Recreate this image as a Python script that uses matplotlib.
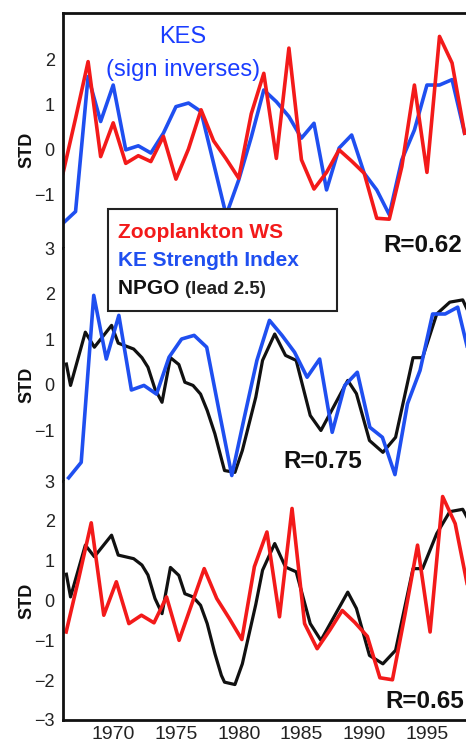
import matplotlib
matplotlib.use('Agg')
import matplotlib.pyplot as plt
import matplotlib.transforms as mtransforms
from matplotlib.patches import Rectangle
import numpy as np

plt.rcParams['font.family'] = ['Liberation Sans', 'DejaVu Sans']

# 颜色
red = '#f31a1a'
blue = '#1f4ff0'
black = '#111111'

years = np.arange(1966, 1999)

# panel 1: zooplankton WS vs KES (sign inversed)
zoo_ws_p1 = [-0.52, 0.70, 1.96, -0.15, 0.60, -0.30, -0.13, -0.26, 0.30, -0.65,
             0.02, 0.89, 0.20, -0.20, -0.63, 0.80, 1.70, -0.19, 2.26, -0.22,
             -0.87, -0.50, 0.00, -0.25, -0.52, -1.52, -1.54, -0.37, 1.44, -0.50,
             2.52, 1.93, 0.37]
kes_p1 = [-1.63, -1.37, 1.63, 0.63, 1.44, 0.00, 0.09, -0.07, 0.37, 0.96,
          1.04, 0.85, -0.30, -1.45, -0.67, 0.28, 1.33, 1.07, 0.74, 0.26,
          0.59, -0.89, 0.04, 0.33, -0.52, -0.89, -1.44, -0.22, 0.44, 1.44,
          1.44, 1.56, 0.37]

# panel 2: KES vs NPGO
kes_p2 = [-2.05, -1.71, 1.96, 0.56, 1.52, -0.12, -0.02, -0.21, 0.60, 1.00,
          1.08, 0.82, -0.60, -2.00, -0.72, 0.53, 1.41, 1.08, 0.71, 0.16,
          0.56, -1.05, -0.02, 0.27, -0.94, -1.16, -1.98, -0.42, 0.31, 1.55,
          1.55, 1.70, 0.55]
npgo_years = [1966.27, 1966.6, 1967.78, 1968.5, 1969.87, 1970.4, 1971.63, 1972.29,
              1972.77, 1973.33, 1973.89, 1974.56, 1975.23, 1975.71, 1976.36, 1976.96,
              1977.49, 1978.1, 1978.62, 1978.87, 1979.7, 1980.29, 1981.36, 1981.9,
              1982.87, 1983.73, 1984.58, 1985.7, 1986.55, 1988.69, 1989.38, 1990.42,
              1991.49, 1992.5, 1993.89, 1994.65, 1995.78, 1996.82, 1997.85, 1998.24]
npgo_p2 = [0.45, -0.02, 1.15, 0.82, 1.30, 0.91, 0.78, 0.59, 0.38, -0.10,
           -0.39, 0.59, 0.44, 0.05, -0.02, -0.21, -0.57, -1.08, -1.63, -1.89,
           -1.93, -1.45, -0.28, 0.53, 1.11, 0.64, 0.53, -0.68, -1.01, 0.09,
           -0.20, -1.23, -1.49, -1.16, 0.59, 0.59, 1.55, 1.81, 1.86, 1.63]

# panel 3: zooplankton WS vs NPGO
zoo_ws_p3 = [-0.79, 0.55, 1.95, -0.37, 0.47, -0.58, -0.37, -0.56, 0.09, -1.00,
             -0.10, 0.80, 0.05, -0.45, -0.98, 0.85, 1.72, -0.41, 2.31, -0.58,
             -1.21, -0.75, -0.25, -0.55, -0.90, -1.94, -1.99, -0.35, 1.39, -0.79,
             2.61, 1.93, 0.34]
npgo_p3 = [0.66, 0.09, 1.39, 1.10, 1.64, 1.14, 1.05, 0.89, 0.64, 0.05,
           -0.33, 0.83, 0.63, 0.17, 0.09, -0.12, -0.58, -1.33, -1.88, -2.05,
           -2.11, -1.59, -0.10, 0.76, 1.43, 0.84, 0.72, -0.58, -1.00, 0.21,
           -0.20, -1.38, -1.59, -1.25, 0.80, 0.80, 1.68, 2.23, 2.29, 2.06]

xticks = [1970, 1975, 1980, 1985, 1990, 1995]
r_labels = ['R=0.62', 'R=0.75', 'R=0.65']

W, H = 466, 742
fig = plt.figure(figsize=(W / 100, H / 100), dpi=100)

left = 63 / W
width = 34 * 12.55 / W
ax1 = fig.add_axes([left, 1 - 248 / H, width, 235 / H])
ax2 = fig.add_axes([left, 1 - 481 / H, width, 233 / H])
ax3 = fig.add_axes([left, 1 - 720 / H, width, 239 / H])

lw = 2.6
ax1.plot(years, kes_p1, color=blue, lw=lw)
ax1.plot(years, zoo_ws_p1, color=red, lw=lw)
ax2.plot(npgo_years, npgo_p2, color=black, lw=2.3)
ax2.plot(years + 0.45, kes_p2, color=blue, lw=lw)
ax3.plot(npgo_years, npgo_p3, color=black, lw=2.3)
ax3.plot(years + 0.25, zoo_ws_p3, color=red, lw=lw)

ax1.set_ylim(-2.18, 3.04)
ax2.set_ylim(-2.12, 3.0)
ax3.set_ylim(-3, 3)
ax1.set_yticks([-1, 0, 1, 2])
ax2.set_yticks([-1, 0, 1, 2, 3])
ax3.set_yticks([-3, -2, -1, 0, 1, 2, 3])

for ax in [ax1, ax2, ax3]:
    ax.set_xlim(1966, 2000)
    for s in ax.spines.values():
        s.set_visible(False)
        s.set_linewidth(2.0)
        s.set_color(black)
    ax.spines['left'].set_visible(True)
    ax.tick_params(length=0, labelsize=13, labelcolor='#222222', pad=6)
    ax.set_xticks([])
    tr = mtransforms.blended_transform_factory(ax.transAxes, ax.transData)
    ax.text(-0.085, 0, 'STD', transform=tr, rotation=90, ha='center', va='center',
            fontsize=13, fontweight='bold', color=black)

ax1.spines['top'].set_visible(True)
ax3.spines['bottom'].set_visible(True)
ax3.set_xticks(xticks)
ax3.tick_params(axis='x', pad=4, labelsize=14)

# 文字标注
fig.text(183 / W, 1 - 37 / H, 'KES', ha='center', va='center', color='#1a3dff', fontsize=17)
fig.text(183 / W, 1 - 70 / H, '(sign inverses)', ha='center', va='center', color='#1a3dff', fontsize=17)

fig.text(383 / W, 1 - 246 / H, r_labels[0], ha='left', va='center', fontsize=17.5, fontweight='bold', color=black)
fig.text(283 / W, 1 - 462 / H, r_labels[1], ha='left', va='center', fontsize=17.5, fontweight='bold', color=black)
fig.text(385 / W, 1 - 701 / H, r_labels[2], ha='left', va='center', fontsize=17.5, fontweight='bold', color=black)

# legend box
box = Rectangle((108 / W, 1 - 311 / H), 229 / W, 102 / H, transform=fig.transFigure,
                facecolor='white', edgecolor='#222222', lw=1.5)
fig.add_artist(box)
fig.text(118 / W, 1 - 233 / H, 'Zooplankton WS', ha='left', va='center', color=red,
         fontsize=15, fontweight='bold')
fig.text(118 / W, 1 - 260 / H, 'KE Strength Index', ha='left', va='center', color=blue,
         fontsize=15, fontweight='bold')
t = fig.text(118 / W, 1 - 294 / H, 'NPGO ', ha='left', va='baseline', color=black,
             fontsize=15, fontweight='bold')
renderer = fig.canvas.get_renderer()
bb = t.get_window_extent(renderer)
fig.text(bb.x1 / W, 1 - 294 / H, '(lead 2.5)', ha='left', va='baseline', color='#222222',
         fontsize=13.5, fontweight='bold')

fig.savefig('out.png', dpi=100)
